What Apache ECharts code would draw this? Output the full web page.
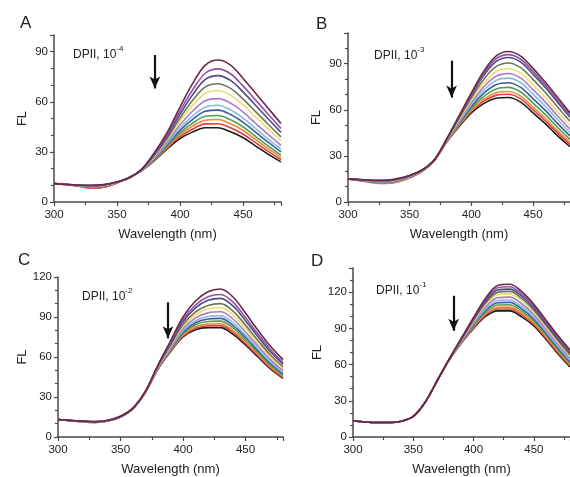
<!DOCTYPE html>
<html><head><meta charset="utf-8">
<script src="https://cdn.jsdelivr.net/npm/echarts@6/dist/echarts.min.js"></script>
<style>html,body{margin:0;padding:0;background:#fff}#c{width:570px;height:477px}</style>
</head><body><div id="c"></div>
<script>
// Wavelength grid (nm)
const wavelengths = [300,310,320,330,340,350,360,370,380,390,400,410,420,430,440,450,460,470,480];
const seriesNames = ['s1','s2','s3','s4','s5','s6','s7','s8','s9','s10','s11','s12'];
const seriesColors = ['#1c1c1c','#e0403c','#e88a40','#4ea24a','#3d5c9c','#86bde2','#b476c8','#e6df6e','#6f7656','#4c4a86','#9150a2','#6a2846'];
const panelLabels = ['A','B','C','D'];
const panelTitles = ['-4','-3','-2','-1'];
const yMax = [100,110,120,140];
const xTicks = [300,350,400,450];
const yTicks = [0,30,60,90,120];
const arrowA = [[380,88],[380,68]];
const arrowB = [[384,92],[384,68]];
const arrowC = [[388,101],[388,74]];
const arrowD = [[383.5,117],[383.5,88]];

const spectraA = [
 [11,10.5,9.5,8.5,9,11.5,15,19,25,32,38,42,44.5,44.5,42,38.5,33.5,28.5,24],
 [11,10.5,9.3,8.2,8.8,11.4,15,19.1,25.3,32.6,39.1,43.7,46.8,46.9,44.4,40.6,35.4,30.2,25.4],
 [11,10.5,9.5,8.6,9.1,11.6,15,19.1,25.6,33.2,40.3,45.5,49,49.4,46.8,42.8,37.3,31.8,26.8],
 [11,10.6,9.7,8.9,9.4,11.7,15,19.2,25.9,33.8,41.4,47.2,51.3,51.8,49.2,44.9,39.2,33.5,28.1],
 [11,10.6,9.7,9,9.5,11.8,14.9,19.3,26.3,34.6,42.9,49.5,54.3,55,52.4,47.7,41.7,35.7,30],
 [11,10.6,9.8,9.2,9.7,11.8,14.9,19.3,26.7,35.3,44.3,51.6,56.9,57.9,55.2,50.2,43.9,37.6,31.6],
 [11,10.5,9.8,9.3,9.8,11.9,14.8,19.4,27.2,36.3,46.2,54.5,60.6,61.9,59.2,53.8,47,40.3,33.9],
 [11,10.6,9.9,9.5,10,11.9,14.8,19.6,27.8,37.5,48.5,58,65.1,66.8,64,58,50.8,43.6,36.7],
 [11,10.6,10,9.7,10.2,12,14.7,19.7,28.3,38.5,50.4,60.9,68.9,70.8,68,61.6,54,46.4,39],
 [11,10.6,10,9.8,10.3,12,14.6,19.8,28.9,39.7,52.6,64.3,73.4,75.7,72.8,65.8,57.8,49.7,41.7],
 [11,10.5,10,9.9,10.4,12,14.6,19.9,29.4,40.7,54.5,67.2,77.1,79.7,76.8,69.4,60.9,52.4,44],
 [11,10.5,10,10,10.5,12,14.5,20,30,42,57,71,82,85,82,74,65,56,47]
];
const spectraB = [
 [15,14,13,12.5,13.5,16,20,27,39,49,58,64,67.5,68,65,58,51,43,36],
 [15,13.8,12.6,12,13,15.8,20,27,39.1,49.5,58.9,65.5,69.4,70.1,67.1,60,52.9,44.8,37.5],
 [15,14,12.8,12.2,13.2,16,20,27,39.3,49.9,59.7,66.7,71.1,71.9,68.9,61.8,54.5,46.3,38.9],
 [15,14,13,12.5,13.5,16.2,20.2,27,39.4,50.5,60.9,68.6,73.6,74.6,71.6,64.4,56.9,48.5,40.8],
 [15,14.2,13.2,12.8,13.8,16.3,20.2,27,39.6,51.2,62.2,70.7,76.3,77.6,74.6,67.3,59.6,51,43],
 [15,14.2,13.4,13,14,16.5,20.3,27.2,39.8,51.9,63.5,72.8,79.1,80.6,77.6,70.2,62.3,53.5,45.2],
 [15,14.3,13.5,13.2,14.2,16.6,20.4,27.2,40,52.6,64.8,74.9,81.8,83.6,80.6,73.1,65,56,47.4],
 [15,14.4,13.7,13.5,14.5,16.8,20.5,27.3,40.3,53.4,66.2,77.2,84.8,86.9,83.9,76.3,68,58.8,49.9],
 [15,14.5,13.8,13.7,14.7,17,20.6,27.3,40.5,54.3,67.8,79.8,88.1,90.5,87.5,79.8,71.3,61.8,52.5],
 [15,14.5,14,13.9,14.9,17.1,20.7,27.4,40.7,55.1,69.3,82.3,91.4,94.1,91.1,83.2,74.5,64.8,55.1],
 [15,14.6,14.1,14,15,17.2,20.8,27.4,40.9,55.5,70.1,83.5,93.1,95.9,92.9,85,76.1,66.3,56.5],
 [15,14.6,14.2,14.2,15.2,17.3,20.8,27.5,41,56,71,85,95,98,95,87,78,68,58]
];
const spectraC = [
 [13,12.2,11.4,11,12,15,21.2,33.6,51,64,75,80.5,82,82,77,69,60,51,44],
 [13,12.2,11.5,11,12,15,21.3,33.7,51.2,64.4,75.8,81.6,83.4,83.5,78.4,70.2,61,51.9,44.7],
 [13,12.3,11.5,11.1,12.1,15.1,21.3,33.8,51.3,64.8,76.5,82.7,84.7,84.9,79.8,71.4,62,52.7,45.4],
 [13,12.3,11.6,11.1,12.1,15.1,21.4,33.8,51.5,65.4,77.6,84.2,86.6,86.9,81.8,73.1,63.4,53.9,46.4],
 [13,12.3,11.6,11.2,12.2,15.2,21.4,33.9,51.7,65.9,78.6,85.7,88.5,89,83.7,74.8,64.8,55.1,47.4],
 [13,12.3,11.6,11.2,12.2,15.2,21.5,34,51.9,66.5,79.7,87.2,90.4,91,85.7,76.4,66.2,56.3,48.3],
 [13,12.4,11.7,11.3,12.3,15.3,21.5,34,52.2,67.3,81.2,89.3,93.1,93.9,88.5,78.8,68.2,58,49.7],
 [13,12.4,11.7,11.3,12.3,15.3,21.6,34.1,52.6,68.2,82.8,91.7,96,97.1,91.6,81.5,70.4,59.8,51.3],
 [13,12.4,11.8,11.4,12.4,15.4,21.6,34.2,52.9,69,84.3,93.8,98.7,100,94.4,83.9,72.4,61.5,52.7],
 [13,12.4,11.8,11.4,12.4,15.4,21.7,34.2,53.3,70.1,86.4,96.8,102.5,104,98.3,87.2,75.2,63.9,54.6],
 [13,12.5,11.9,11.5,12.5,15.5,21.7,34.3,53.6,70.9,87.9,99,105.2,106.9,101.1,89.6,77.2,65.6,56],
 [13,12.5,11.9,11.5,12.5,15.5,21.8,34.4,54,72,90,102,109,111,105,93,80,68,58]
];
const spectraD = [
 [13.5,12.5,12,12,13,17,29,47,64,78,90,100,104.5,104.5,99.5,92,81,69,58],
 [13.5,12.5,12,12,13,17,29,47,64.1,78.3,90.6,101,106,106,101,93.3,82.1,70,59],
 [13.5,12.5,12,12,13,17,29,47,64.1,78.6,91.3,102.1,107.4,107.6,102.4,94.5,83.2,71.1,60],
 [13.5,12.5,12,12,13,17,29,47,64.2,78.9,92.1,103.5,109.3,109.6,104.3,96.1,84.7,72.5,61.2],
 [13.5,12.5,12,12,13,17,29,47,64.3,79.3,92.9,104.8,111.2,111.5,106.2,97.8,86.1,73.8,62.5],
 [13.5,12.5,12,12,13,17,29,47,64.4,79.6,93.7,106.2,113.1,113.5,108.1,99.4,87.6,75.2,63.7],
 [13.5,12.5,12,12,13,17,29,47,64.5,80.1,94.7,107.8,115.4,115.9,110.4,101.4,89.3,76.8,65.3],
 [13.5,12.5,12,12,13,17,29,47,64.6,80.6,95.8,109.6,117.9,118.6,112.9,103.5,91.2,78.6,67],
 [13.5,12.5,12,12,13,17,29,47,64.7,80.9,96.6,111,119.8,120.6,114.8,105.1,92.7,80,68.2],
 [13.5,12.5,12,12,13,17,29,47,64.8,81.3,97.4,112.3,121.7,122.5,116.7,106.8,94.1,81.3,69.5],
 [13.5,12.5,12,12,13,17,29,47,64.9,81.6,98.2,113.7,123.6,124.5,118.6,108.4,95.6,82.7,70.7],
 [13.5,12.5,12,12,13,17,29,47,65,82,99,115,125.5,126.5,120.5,110,97,84,72]
];

const panels = [spectraA, spectraB, spectraC, spectraD];
const arrows = [arrowA, arrowB, arrowC, arrowD];

// layout (pixels)
const grids = [
  {left:54, top:35, right:289, bottom:275},
  {left:348, top:33, right:-6, bottom:275},
  {left:58, top:277, right:287, bottom:40},
  {left:353, top:268, right:-7, bottom:40}
];
const FONT = 'Liberation Sans, Arial, sans-serif';
const axisCol = '#4a4a4a';
const txtCol = '#222';

const option = {
  animation:false,
  backgroundColor:'#fff',
  grid: grids.map(g => Object.assign({containLabel:false}, g)),
  xAxis: grids.map((g,i)=>({
    gridIndex:i, type:'value', min:300, max:480, interval:50,
    name:'Wavelength (nm)', nameLocation:'middle', nameGap:26,
    nameTextStyle:{fontFamily:FONT, fontSize:13, color:txtCol},
    axisLine:{show:true, lineStyle:{color:axisCol, width:1.5}},
    axisTick:{show:true, length:4, lineStyle:{color:axisCol, width:1.2}},
    minorTick:{show:true, splitNumber:2, length:3, lineStyle:{color:axisCol, width:1.2}},
    splitLine:{show:false},
    axisLabel:{fontFamily:FONT, fontSize:11.5, color:txtCol, margin:7, showMaxLabel:false,
      formatter: v => xTicks.indexOf(v) >= 0 ? String(v) : ''}
  })),
  yAxis: grids.map((g,i)=>({
    gridIndex:i, type:'value', min:0, max:yMax[i], interval:30,
    name:'FL', nameLocation:'middle', nameGap:25, nameRotate:90,
    nameTextStyle:{fontFamily:FONT, fontSize:13, color:txtCol},
    axisLine:{show:true, lineStyle:{color:axisCol, width:1.5}},
    axisTick:{show:true, length:4, lineStyle:{color:axisCol, width:1.2}},
    minorTick:{show:true, splitNumber:3, length:3, lineStyle:{color:axisCol, width:1.2}},
    splitLine:{show:false},
    axisLabel:{fontFamily:FONT, fontSize:11.5, color:txtCol, margin:6,
      formatter: v => yTicks.indexOf(v) >= 0 ? String(v) : ''}
  })),
  series: [],
  graphic: []
};

panels.forEach((spec, p) => {
  spec.forEach((row, k) => {
    const s = {
      type:'line', name:panelLabels[p]+'-'+seriesNames[k],
      xAxisIndex:p, yAxisIndex:p,
      data: wavelengths.map((w,j)=>[w,row[j]]),
      smooth:0.35, showSymbol:false, symbol:'none',
      lineStyle:{color:seriesColors[k], width:1.6},
      itemStyle:{color:seriesColors[k]},
      z: 2 + k
    };
    if (k === spec.length - 1) {
      s.markLine = {
        silent:true, symbol:['none','arrow'], symbolSize:[8,12],
        label:{show:false},
        lineStyle:{color:'#111', width:2.2, type:'solid'},
        data:[[{coord:arrows[p][0]},{coord:arrows[p][1]}]]
      };
    }
    option.series.push(s);
  });
});

// panel letters and annotations
const letterPos = [[20,15],[316,16],[18,252],[311,253]];
const titlePos = [[73,45],[374,46],[82,287],[376,281]];
letterPos.forEach((pos,i)=>{
  option.graphic.push({type:'text', left:pos[0], top:pos[1],
    style:{text:panelLabels[i], font:'17px '+FONT, fill:txtCol}});
});
titlePos.forEach((pos,i)=>{
  option.graphic.push({type:'text', left:pos[0], top:pos[1],
    style:{text:'{a|DPII, 10}{s|'+panelTitles[i]+'}',
      rich:{a:{fontFamily:FONT, fontSize:12, fill:txtCol, color:txtCol, lineHeight:16, verticalAlign:'bottom'},
            s:{fontFamily:FONT, fontSize:8, fill:txtCol, color:txtCol, lineHeight:16, verticalAlign:'top', padding:[0,0,6,0]}}}});
});

const chart = echarts.init(document.getElementById('c'), null, {renderer:'canvas'});
chart.setOption(option);
</script></body></html>
